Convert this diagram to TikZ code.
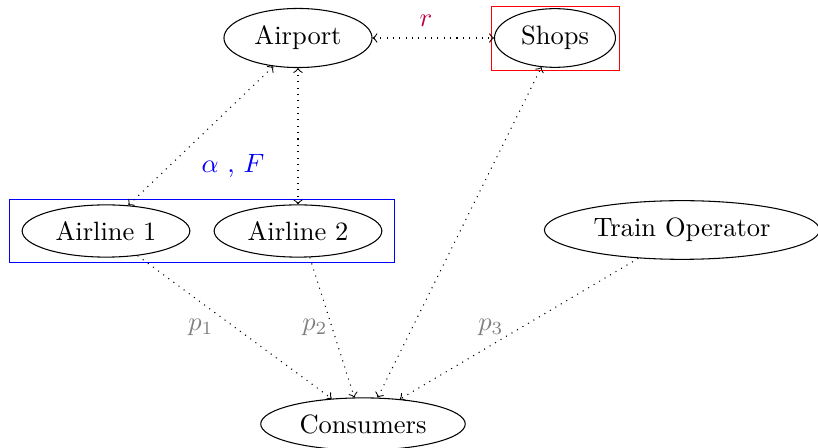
\documentclass[tikz,border=0pt]{standalone}
\usetikzlibrary{shapes.geometric}
\definecolor{boxblue}{rgb}{0,0,1}
\definecolor{boxred}{rgb}{1,0,0}
\begin{document}
\begin{tikzpicture}[x=0.3774pt,y=-0.3774pt,
  ent/.style={draw,ellipse},
  link/.style={dotted,-to},
  blink/.style={dotted,to-to},
  plabel/.style={gray},
  grp/.style={line width=0.3pt}]
\useasboundingbox (0,0) rectangle (818,448);
\node[ent] (airport) at (298,38) {Airport};
\node[ent] (shops) at (555,38) {Shops};
\node[ent] (a1) at (106,231) {Airline 1};
\node[ent] (a2) at (298,231) {Airline 2};
\node[ent] (train) at (682,230) {Train Operator};
\node[ent] (cons) at (363,424) {Consumers};
\draw[grp,boxred] (491.5,6.5) rectangle (619.5,70.5);
\draw[grp,boxblue] (9.5,199.5) rectangle (394.5,262.5);
\draw[blink] (airport.east) -- (shops.west);
\draw[blink] (a1.49) -- (airport.229);
\draw[blink] (a2.north) -- (airport.south);
\draw[blink] (cons.61) -- (shops.245);
\draw[link] (a1.-38) -- (cons.141);
\draw[link] (a2.-66) -- (cons.108);
\draw[link] (train.213) -- (cons.34);
\node[purple] (r) at (426,21) {$r$};
\node[plabel] (p1) at (201,327) {$p_1$};
\node[plabel] (p2) at (315,327) {$p_2$};
\node[plabel] (p3) at (491,327) {$p_3$};
\node[blue] (af) at (233,166) {$\alpha$ , $F$};
\end{tikzpicture}
\end{document}
